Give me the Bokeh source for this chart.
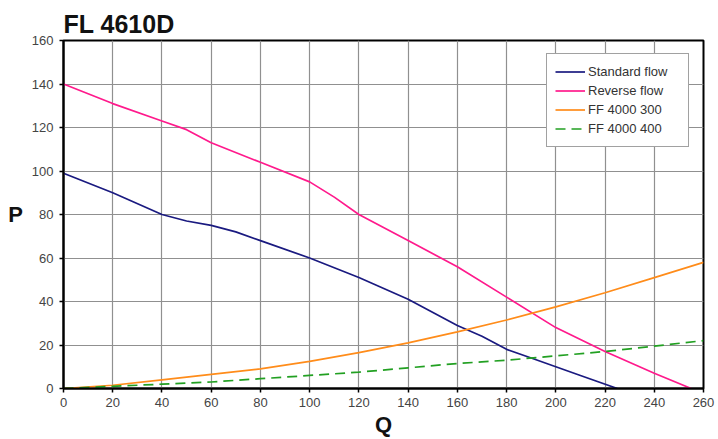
from bokeh.plotting import figure
from bokeh.embed import file_html
from bokeh.resources import INLINE
from bokeh.models import Legend, LegendItem, FixedTicker

# Data
std_q = [0, 20, 40, 50, 60, 70, 80, 100, 120, 140, 160, 170, 180, 190, 200, 210, 225]
std_p = [99, 90, 80, 77, 75, 72, 68, 60, 51, 41, 29, 24, 18, 14, 10, 6, 0]

rev_q = [0, 20, 40, 50, 60, 80, 100, 110, 120, 140, 160, 180, 200, 220, 240, 255]
rev_p = [140, 131, 123, 119, 113, 104, 95, 88, 80, 68, 56, 42, 28, 17, 7, 0]

ff300_q = [0, 20, 40, 60, 80, 100, 120, 140, 160, 180, 200, 220, 240, 260]
ff300_p = [0, 1.5, 4, 6.5, 9, 12.5, 16.5, 21, 26, 31.5, 37.5, 44, 51, 58]

ff400_q = [0, 20, 40, 60, 80, 100, 120, 140, 160, 180, 200, 220, 240, 260]
ff400_p = [0, 1, 2, 3, 4.5, 6, 7.5, 9.5, 11.5, 13, 15, 17, 19.5, 22]

x_ticks = list(range(0, 261, 20))
y_ticks = list(range(0, 161, 20))

p = figure(width=718, height=439, output_backend="svg", toolbar_location=None,
           x_range=(0, 260), y_range=(0, 160),
           min_border_left=63, min_border_right=15, min_border_top=40, min_border_bottom=51,
           title="FL 4610D")
p.title.text_font = "Liberation Sans"
p.title.text_font_size = "25px"
p.title.text_font_style = "bold"
p.title.text_color = "#111111"
p.title.offset = 0
p.title.standoff = 6

p.outline_line_color = "black"
p.outline_line_width = 2
p.background_fill_color = "white"
p.border_fill_color = "white"

for ax in (p.xaxis, p.yaxis):
    ax.axis_line_color = "black"
    ax.axis_line_width = 2
    ax.major_tick_line_color = "black"
    ax.major_tick_line_width = 1.5
    ax.major_tick_out = 4
    ax.major_tick_in = 0
    ax.minor_tick_line_color = None
    ax.major_label_text_font = "Liberation Sans"
    ax.major_label_text_font_size = "13px"
    ax.major_label_text_color = "#444444"
    ax.axis_label_text_font = "Liberation Sans"
    ax.axis_label_text_font_size = "22px"
    ax.axis_label_text_font_style = "bold"
    ax.axis_label_text_color = "#111111"

p.xaxis.ticker = FixedTicker(ticks=x_ticks)
p.yaxis.ticker = FixedTicker(ticks=y_ticks)
p.xaxis.axis_label = "Q"
p.yaxis.axis_label = "P"
p.yaxis.axis_label_orientation = "horizontal"
p.xaxis.axis_label_standoff = 2
p.yaxis.axis_label_standoff = 6
p.xaxis.major_label_standoff = 5
p.yaxis.major_label_standoff = 6

p.xgrid.grid_line_color = "#909090"
p.ygrid.grid_line_color = "#909090"
p.xgrid.grid_line_width = 1.2
p.ygrid.grid_line_width = 1.2

r1 = p.line(std_q, std_p, line_color="#1a1a80", line_width=1.7)
r2 = p.line(rev_q, rev_p, line_color="#ff1a8c", line_width=1.7)
r3 = p.line(ff300_q, ff300_p, line_color="#ff8c1a", line_width=1.7)
r4 = p.line(ff400_q, ff400_p, line_color="#22a022", line_width=1.7, line_dash="10 6")

legend = Legend(items=[
    LegendItem(label="Standard flow", renderers=[r1]),
    LegendItem(label="Reverse flow", renderers=[r2]),
    LegendItem(label="FF 4000 300", renderers=[r3]),
    LegendItem(label="FF 4000 400", renderers=[r4]),
], location=(483, 241))
legend.label_text_font = "Liberation Sans"
legend.label_text_font_size = "13px"
legend.label_text_color = "#333333"
legend.glyph_width = 30
legend.glyph_height = 19
legend.label_height = 19
legend.label_width = 92
legend.label_standoff = 3
legend.spacing = 0
legend.padding = 8
legend.margin = 0
legend.border_line_color = "#444444"
legend.border_line_width = 1.2
legend.background_fill_color = "white"
legend.background_fill_alpha = 1
p.add_layout(legend, "center")

open("out.html", "w").write(file_html(p, INLINE))
